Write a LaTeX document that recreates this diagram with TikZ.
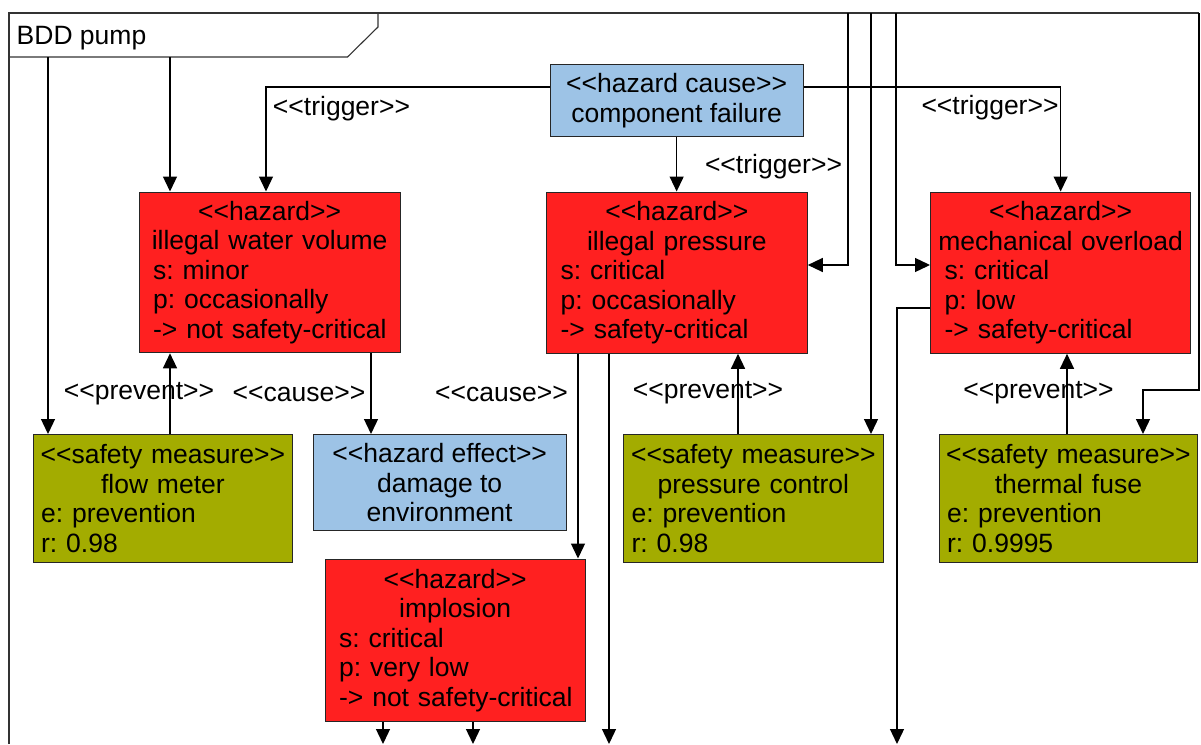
\documentclass[tikz,border=0pt]{standalone}
\usepackage{fontspec}
\setmainfont{Liberation Sans}[Ligatures=TeXOff]
\usetikzlibrary{arrows.meta}
\definecolor{hzred}{RGB}{255,32,32}
\definecolor{hzblue}{RGB}{157,195,230}
\definecolor{smolive}{RGB}{163,172,0}
\newcommand\dfs{\fontsize{26.5}{29.5}\selectfont\frenchspacing}
\newcommand\cl[1]{\makebox[\linewidth]{#1}}
\newcommand\lft[1]{\makebox[\linewidth][l]{#1}}
\begin{document}
\begin{tikzpicture}[x=1pt,y=-1pt,
  box/.style={draw=black!85, line width=1.3pt, anchor=north west, font=\dfs, inner ysep=0pt},
  hazardbox/.style={box, fill=hzred, inner xsep=14pt, align=left},
  smbox/.style={box, fill=smolive, inner xsep=8pt, align=left, minimum height=128pt},
  causebox/.style={box, fill=hzblue, inner xsep=0pt, align=center, minimum width=253pt},
  frame/.style={draw=black!80, line width=1.1pt},
  arr/.style={draw=black, line width=1.3pt, -{Triangle[width=14pt,length=15pt]}},
  lbl/.style={font=\dfs, inner sep=0pt}
]
\useasboundingbox (0,0) rectangle (1201,744);
\fill[white] (0,0) rectangle (1201,744);

% frame and tab
\draw[frame] (9,744) -- (9,13) -- (1199,13);
\draw[frame] (9,57) -- (347.5,57) -- (378,27) -- (378,13);
\node[font=\dfs, anchor=west, inner sep=0pt] (title) at (16.5,38) {BDD pump};

% boxes
\node[causebox, minimum height=72.5pt] (hc) at (549.5,63.5) {<<hazard cause>>\\component failure};
\node[hazardbox, text width=233pt, minimum height=160.5pt] (wv) at (138.5,191.5)
  {\cl{<<hazard>>}\\\cl{illegal water volume}\\\lft{s: minor}\\\lft{p: occasionally}\\\lft{-> not safety-critical}};
\node[hazardbox, text width=232.5pt, minimum height=161pt] (ip) at (546,191.5)
  {\cl{<<hazard>>}\\\cl{illegal pressure}\\\lft{s: critical}\\\lft{p: occasionally}\\\lft{-> safety-critical}};
\node[hazardbox, text width=232pt, minimum height=161pt] (mo) at (930,191.5)
  {\cl{<<hazard>>}\\\cl{mechanical overload}\\\lft{s: critical}\\\lft{p: low}\\\lft{-> safety-critical}};
\node[smbox, text width=243.5pt] (fm) at (32.5,434)
  {\cl{<<safety measure>>}\\\cl{flow meter}\\\lft{e: prevention}\\\lft{r: 0.98}};
\node[causebox, minimum height=96pt] (he) at (312.5,434) {<<hazard effect>>\\damage to\\environment};
\node[smbox, text width=243.5pt, minimum height=127.5pt] (pc) at (623,434)
  {\cl{<<safety measure>>}\\\cl{pressure control}\\\lft{e: prevention}\\\lft{r: 0.98}};
\node[smbox, text width=242.5pt, minimum height=127.5pt] (tf) at (938.5,434)
  {\cl{<<safety measure>>}\\\cl{thermal fuse}\\\lft{e: prevention}\\\lft{r: 0.9995}};
\node[hazardbox, text width=232pt, minimum height=162pt] (im) at (324.5,558.5)
  {\cl{<<hazard>>}\\\cl{implosion}\\\lft{s: critical}\\\lft{p: very low}\\\lft{-> not safety-critical}};

% free ends
\coordinate (t1) at (48,57);
\coordinate (t2) at (170,57);
\coordinate (c1) at (848,13);
\coordinate (c2) at (871,13);
\coordinate (c3) at (896,13);
\coordinate (rt) at (1199,13);
\coordinate (b1) at (383,744);
\coordinate (b2) at (473,744);
\coordinate (b3) at (609,744);
\coordinate (b4) at (897,744);

% connectors
\draw[arr] (hc.west |- 0,87) -| (wv.north -| 266,0);
\draw[arr] (hc.south) -- (ip.north -| hc.south);
\draw[arr] (hc.east |- 0,87) -| (mo.north);
\draw[arr] (t1) -- (fm.north -| t1);
\draw[arr] (t2) -- (wv.north -| t2);
\draw[arr] (fm.north -| 170,0) -- (wv.south -| 170,0);
\draw[arr] (wv.south -| 371,0) -- (he.north -| 371,0);
\draw[arr] (ip.south -| 578,0) -- (im.north -| 578,0);
\draw[arr] (ip.south -| 609,0) -- (b3);
\draw[arr] (pc.north -| 738,0) -- (ip.south -| 738,0);
\draw[arr] (tf.north -| 1067,0) -- (mo.south -| 1067,0);
\draw[arr] (im.south -| b1) -- (b1);
\draw[arr] (im.south -| b2) -- (b2);
\draw[arr] (mo.west |- 0,308) -| (b4);
\draw[arr] (c1) |- (ip.east |- 0,265);
\draw[arr] (c2) -- (pc.north -| c2);
\draw[arr] (c3) |- (mo.west |- 0,265);
\draw[arr] (rt) |- (1143,390) -- (tf.north -| 1143,0);

% labels
\node[lbl] (l1) at (341.5,109) {<<trigger>>};
\node[lbl] (l2) at (990,108) {<<trigger>>};
\node[lbl] (l3) at (773.5,167) {<<trigger>>};
\node[lbl] (l4) at (139,394) {<<prevent>>};
\node[lbl] (l5) at (299,394) {<<cause>>};
\node[lbl] (l6) at (501.5,394) {<<cause>>};
\node[lbl] (l7) at (708,393) {<<prevent>>};
\node[lbl] (l8) at (1038.5,393) {<<prevent>>};
\end{tikzpicture}
\end{document}
